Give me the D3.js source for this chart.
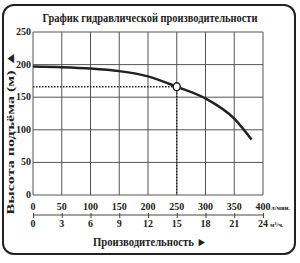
<!DOCTYPE html>
<html>
<head>
<meta charset="utf-8">
<style>
  body { margin: 0; background: #fff; }
  text { font-family: 'Liberation Serif', serif; font-weight: bold; fill: #222; }
</style>
</head>
<body>
<div id="chart"></div>
<script src="https://cdn.jsdelivr.net/npm/d3@7"></script>
<script>
var flowLpm = [0, 50, 100, 150, 200, 250, 300, 350, 380];
var headM = [197, 196, 194, 190, 182, 166, 148, 117, 85];
var lpmTicks = [0, 50, 100, 150, 200, 250, 300, 350, 400];
var m3hTicks = [0, 3, 6, 9, 12, 15, 18, 21, 24];
var headTicks = [0, 50, 100, 150, 200, 250];
var dutyPoint = [250, 166];

var width = 300, height = 263;
var pL = 33, pR = 263, pT = 32, pB = 195;

var svg = d3.select('#chart').append('svg')
    .attr('width', width).attr('height', height);

// outer frame
svg.append('rect')
    .attr('x', 3).attr('y', 5).attr('width', 292).attr('height', 249)
    .attr('rx', 11).attr('ry', 11)
    .attr('fill', 'none').attr('stroke', '#222').attr('stroke-width', 2);

svg.append('text')
    .attr('x', 150).attr('y', 22)
    .attr('text-anchor', 'middle')
    .attr('font-size', 13)
    .attr('textLength', 215).attr('lengthAdjust', 'spacingAndGlyphs')
    .text('График гидравлической производительности');

var x = d3.scaleLinear().domain([0, 400]).range([pL, pR]);
var x2 = d3.scaleLinear().domain([0, 24]).range([pL, pR]);
var y = d3.scaleLinear().domain([0, 250]).range([pB, pT]);

// grid
svg.selectAll('.vg').data(lpmTicks).enter().append('line')
    .attr('x1', d => x(d)).attr('x2', d => x(d))
    .attr('y1', pT).attr('y2', pB)
    .attr('stroke', '#555').attr('stroke-width', 1);
svg.selectAll('.hg').data(headTicks).enter().append('line')
    .attr('x1', pL).attr('x2', pR)
    .attr('y1', d => y(d)).attr('y2', d => y(d))
    .attr('stroke', '#555').attr('stroke-width', 1);

// y tick labels
svg.selectAll('.yl').data(headTicks).enter().append('text')
    .attr('x', pL - 2).attr('y', d => y(d) + 3)
    .attr('text-anchor', 'end').attr('font-size', 10)
    .text(d => d);

// x tick labels (l/min)
svg.selectAll('.xl').data(lpmTicks).enter().append('text')
    .attr('x', x).attr('y', pB + 15)
    .attr('text-anchor', 'middle').attr('font-size', 10)
    .text(d => d);
svg.append('text').attr('x', pR + 8).attr('y', pB + 15)
    .attr('font-size', 6.5).text('л/мин.');

// second axis (m3/h)
var ax2 = svg.append('g').attr('transform', 'translate(0,' + (pB + 20) + ')')
    .call(d3.axisBottom(x2).tickValues(m3hTicks).tickSize(3).tickFormat(''));
ax2.select('.domain').attr('stroke', '#444').attr('d', 'M' + pL + ',0H' + pR);
ax2.selectAll('.tick line').attr('stroke', '#444').attr('y1', -2);
svg.selectAll('.x2l').data(m3hTicks).enter().append('text')
    .attr('x', x2).attr('y', pB + 32)
    .attr('text-anchor', 'middle').attr('font-size', 10)
    .text(d => d);
svg.append('text').attr('x', pR + 7).attr('y', pB + 32)
    .attr('font-size', 6.5).text('м³/ч.');

svg.append('text')
    .attr('x', 150).attr('y', pB + 51)
    .attr('text-anchor', 'middle').attr('font-size', 12)
    .attr('textLength', 114).attr('lengthAdjust', 'spacingAndGlyphs')
    .text('Производительность ►');

svg.append('text')
    .attr('transform', 'translate(14,' + ((pT + pB) / 2 + 19) + ') rotate(-90)')
    .attr('text-anchor', 'middle').attr('font-size', 11)
    .attr('textLength', 164).attr('lengthAdjust', 'spacingAndGlyphs')
    .text('Высота подъёма (м) ▲');

// duty point guides
svg.append('line')
    .attr('x1', pL).attr('x2', x(dutyPoint[0]))
    .attr('y1', y(dutyPoint[1])).attr('y2', y(dutyPoint[1]))
    .attr('stroke', '#222').attr('stroke-width', 1.5).attr('stroke-dasharray', '1.5,1.5');
svg.append('line')
    .attr('x1', x(dutyPoint[0])).attr('x2', x(dutyPoint[0]))
    .attr('y1', y(dutyPoint[1])).attr('y2', pB)
    .attr('stroke', '#222').attr('stroke-width', 1.5).attr('stroke-dasharray', '1.5,1.5');

var line = d3.line()
    .x(d => x(d[0])).y(d => y(d[1]))
    .curve(d3.curveMonotoneX);
svg.append('path')
    .datum(flowLpm.map((f, i) => [f, headM[i]]))
    .attr('d', line)
    .attr('fill', 'none').attr('stroke', '#222').attr('stroke-width', 2.5);

svg.append('ellipse')
    .attr('cx', x(dutyPoint[0])).attr('cy', y(dutyPoint[1]))
    .attr('rx', 3.5).attr('ry', 4)
    .attr('fill', '#fff').attr('stroke', '#222').attr('stroke-width', 1.5);
</script>
</body>
</html>
